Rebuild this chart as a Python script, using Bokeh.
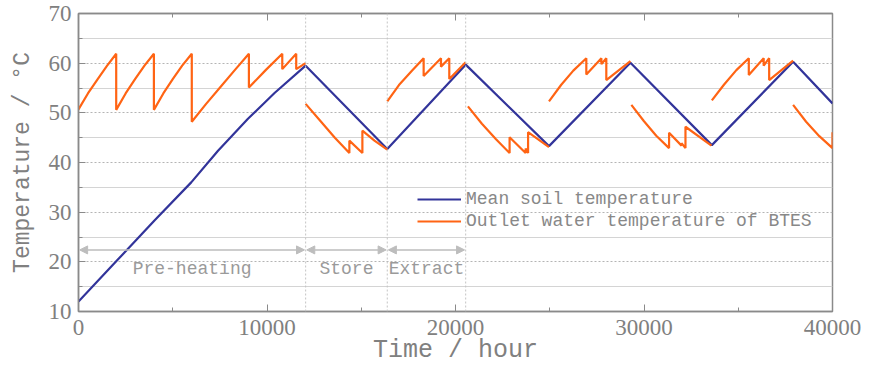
import math
from bokeh.plotting import figure
from bokeh.models import (LinearAxis, Range1d, Legend, LegendItem, Arrow, NormalHead,
                          Label, Span, FixedTicker)
from bokeh.embed import file_html
from bokeh.resources import INLINE

nan = math.nan

# ---- data ----
soil_t = [0, 2050, 4030, 5980, 7390, 8990, 10400, 12050, 16380, 20540, 24960, 29280, 33600, 37910, 40000]
soil_T = [12.0, 20.3, 28.3, 36.0, 42.3, 48.8, 54.0, 59.5, 42.7, 59.7, 43.3, 60.1, 43.5, 60.3, 51.9]

outlet_t = [
    0, 500, 1000, 1500, 2000,
    2000, 2500, 3000, 3500, 4000,
    4000, 4500, 5000, 5500, 6010,
    6010, 6770, 7530, 8290, 9040,
    9040, 9930, 10810,
    10810, 11550,
    11550, 12050,
    nan,
    12050, 12800, 13600, 14370,
    14370, 15060,
    15060, 15700, 16380,
    nan,
    16380, 17000, 17700, 18310,
    18310, 19230,
    19230, 19670,
    19670, 20540,
    nan,
    20660, 21400, 22150, 22870,
    22870, 23720,
    23720, 23850,
    23850, 24960,
    nan,
    24960, 25600, 26250, 26940,
    26940, 27740,
    27740, 28000,
    28000, 29280,
    nan,
    29330, 30000, 30650, 31330,
    31330, 31990,
    31990, 32200,
    32200, 33580,
    nan,
    33600, 34250, 34900, 35560,
    35560, 36350,
    36350, 36640,
    36640, 37910,
    nan,
    37910, 38600, 39300, 40000,
    40000,
]
outlet_T = [
    50.7, 53.9, 56.7, 59.4, 61.9,
    50.6, 53.9, 56.8, 59.5, 61.9,
    50.6, 53.9, 56.8, 59.5, 61.9,
    48.2, 51.8, 55.2, 58.6, 61.9,
    55.1, 58.6, 61.9,
    58.8, 61.9,
    58.8, 60.0,
    nan,
    51.8, 48.5, 45.0, 41.9,
    44.4, 41.9,
    46.4, 44.4, 42.6,
    nan,
    52.3, 55.6, 58.5, 61.0,
    57.4, 61.0,
    59.3, 61.0,
    56.8, 60.2,
    nan,
    51.3, 47.8, 44.7, 41.9,
    45.1, 41.9,
    42.8, 41.9,
    46.1, 43.1,
    nan,
    52.3, 55.6, 58.5, 61.0,
    57.7, 61.0,
    59.8, 61.0,
    56.6, 60.4,
    nan,
    51.6, 48.3, 45.4, 42.9,
    46.0, 43.4,
    43.9, 42.9,
    47.2, 43.4,
    nan,
    52.5, 55.7, 58.6, 61.0,
    57.6, 61.0,
    59.5, 61.0,
    56.6, 60.5,
    nan,
    51.6, 48.2, 45.3, 42.9,
    46.1,
]

phase_bounds = [0, 12050, 16380, 20540]
phase_names = ["Pre-heating", "Store", "Extract"]
arrow_y = 22.4
phase_label_y = 18.6

x_ticks = [0, 10000, 20000, 30000, 40000]
x_minor = [5000, 15000, 25000, 35000]
y_ticks = [10, 20, 30, 40, 50, 60, 70]
y_minor = [15, 25, 35, 45, 55, 65]

series_names = ["Mean soil temperature", "Outlet water temperature of BTES"]

# ---- style ----
BLUE = "#32349a"
ORANGE = "#ff6414"
AXC = "#8a8a8a"
TXT = "#808080"
MONO = "Liberation Mono"
SERIF = "Liberation Serif"

p = figure(frame_width=754, frame_height=298, x_range=Range1d(0, 40000), y_range=Range1d(10, 70),
           output_backend="svg", toolbar_location=None,
           min_border_left=78, min_border_top=13, min_border_right=32, min_border_bottom=56)
p.background_fill_color = "white"
p.border_fill_color = "white"
p.outline_line_color = AXC
p.outline_line_width = 1.5

# axes
for ax in (p.xaxis[0], p.yaxis[0]):
    ax.axis_line_color = AXC
    ax.axis_line_width = 1.5
    ax.major_tick_line_color = AXC
    ax.minor_tick_line_color = AXC
    ax.major_tick_in = 7
    ax.major_tick_out = 0
    ax.minor_tick_in = 4
    ax.minor_tick_out = 0
    ax.major_label_text_color = TXT
    ax.major_label_text_font = SERIF
    ax.major_label_text_font_size = "23px"
    ax.axis_label_text_color = TXT
    ax.axis_label_text_font = MONO
    ax.axis_label_text_font_style = "normal"

p.xaxis.ticker = FixedTicker(ticks=x_ticks, minor_ticks=x_minor)
p.yaxis.ticker = FixedTicker(ticks=y_ticks, minor_ticks=y_minor)
p.xaxis.axis_label = "Time / hour"
p.yaxis.axis_label = "Temperature / \u00b0C"
p.xaxis.axis_label_text_font_size = "25px"
p.yaxis.axis_label_text_font_size = "23px"
p.xaxis.major_label_standoff = 8
p.xaxis.axis_label_standoff = -2
p.yaxis.major_label_standoff = 7
p.yaxis.axis_label_standoff = 10

top = LinearAxis(ticker=FixedTicker(ticks=x_ticks, minor_ticks=x_minor))
top.axis_line_color = AXC
top.axis_line_width = 1.5
top.major_tick_line_color = AXC
top.minor_tick_line_color = AXC
top.major_tick_in = 7
top.major_tick_out = 0
top.minor_tick_in = 4
top.minor_tick_out = 0
top.major_label_overrides = {t: "" for t in x_ticks}
top.major_label_standoff = 0
p.add_layout(top, "above")

# grids
p.xgrid.visible = False
p.ygrid.ticker = FixedTicker(ticks=y_ticks, minor_ticks=y_minor)
p.ygrid.grid_line_color = "#b4b4b4"
p.ygrid.grid_line_dash = "2 2"
p.ygrid.grid_line_width = 1
p.ygrid.minor_grid_line_color = "#d4d4d4"
p.ygrid.minor_grid_line_width = 1

for b in phase_bounds[1:]:
    p.add_layout(Span(location=b, dimension="height", line_color="#c4c4c4",
                      line_dash="2 2", line_width=1))

# phase arrows and labels
gap = 60
for i, name in enumerate(phase_names):
    a, b = phase_bounds[i], phase_bounds[i + 1]
    p.add_layout(Arrow(x_start=a + gap, x_end=b - gap, y_start=arrow_y, y_end=arrow_y,
                       line_color="#bdbdbd", line_width=1.5,
                       start=NormalHead(size=8, fill_color="#bdbdbd", line_color="#bdbdbd"),
                       end=NormalHead(size=8, fill_color="#bdbdbd", line_color="#bdbdbd")))
    p.add_layout(Label(x=(a + b) / 2, y=phase_label_y, text=name, text_align="center",
                       text_baseline="middle", text_font=MONO, text_font_size="18px",
                       text_color="#9a9a9a"))

# series
r1 = p.line(soil_t, soil_T, line_color=BLUE, line_width=2.2)
r2 = p.line(outlet_t, outlet_T, line_color=ORANGE, line_width=2.2)

legend = Legend(items=[LegendItem(label=series_names[0], renderers=[r1]),
                       LegendItem(label=series_names[1], renderers=[r2])],
                location=(339, 80), orientation="vertical",
                padding=0, margin=0, spacing=2,
                glyph_width=44, glyph_height=20, label_height=20, label_standoff=5,
                background_fill_alpha=0, border_line_alpha=0,
                label_text_font=MONO, label_text_font_size="18px",
                label_text_color="#888888")
p.add_layout(legend)

open("out.html", "w").write(file_html(p, INLINE))
